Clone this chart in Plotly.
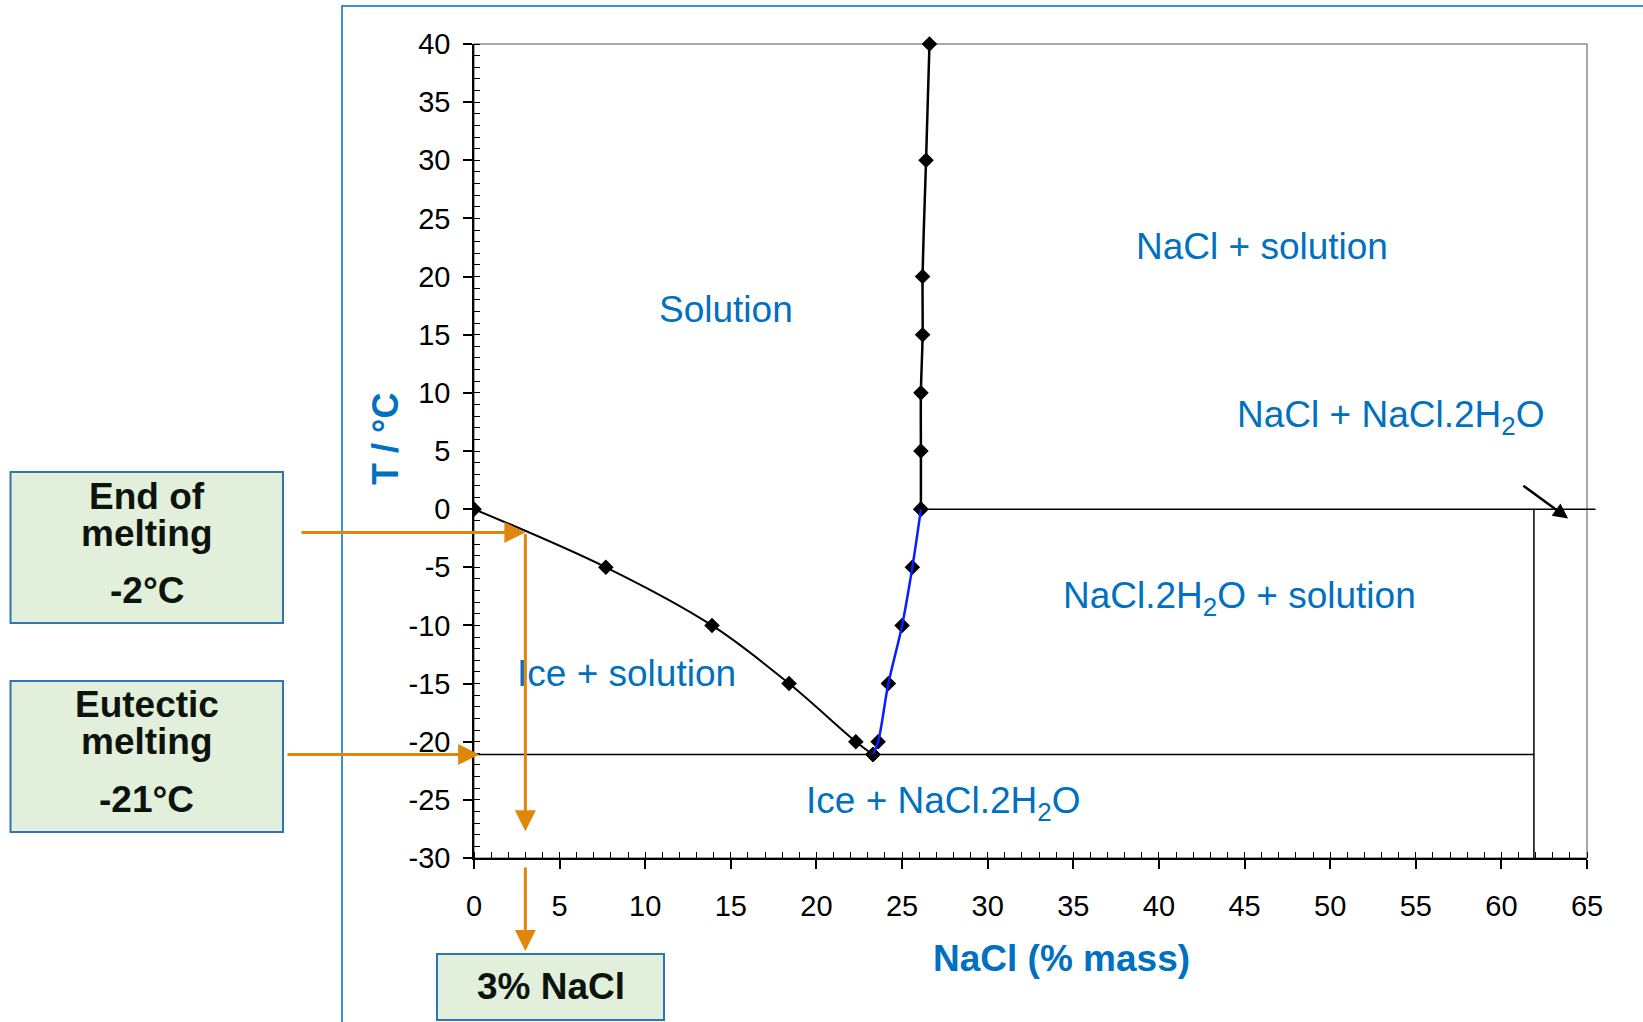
import plotly.graph_objects as go

# ---------------- data ----------------
ice_x = [0, 7.7, 13.9, 18.4, 22.3, 23.3]          # ice liquidus (% NaCl)
ice_T = [0, -5, -10, -15, -20, -21.1]             # °C
hyd_x = [23.3, 23.6, 24.2, 25.0, 25.6, 26.1]      # NaCl.2H2O liquidus
hyd_T = [-21.1, -20, -15, -10, -5, 0]
salt_x = [26.1, 26.1, 26.1, 26.2, 26.2, 26.4, 26.6]  # NaCl solubility
salt_T = [0, 5, 10, 15, 20, 30, 40]

eutectic_T = -21.1
peritectic_T = 0
hydrate_x = 61.9          # NaCl.2H2O composition
peritectic_line_end = 65.5

x_ticks = list(range(0, 70, 5))
y_ticks = list(range(-30, 45, 5))

region_labels = ["Solution", "NaCl + solution", "NaCl + NaCl.2H<sub>2</sub>O",
                 "NaCl.2H<sub>2</sub>O + solution", "Ice + solution",
                 "Ice + NaCl.2H<sub>2</sub>O"]
region_x = [14.7, 46.0, 53.5, 44.7, 8.9, 27.4]
region_y = [17.2, 22.6, 7.9, -7.6, -14.1, -25.3]

sample_x = 3
end_melt_T = -2
arrow_down_T = -27.7

# ---------------- layout geometry (pixels) ----------------
W, H = 1643, 1022
L, R, T, B = 474, 1587, 44, 858
XR = [0, 65]
YR = [-30, 40]


def pxx(px):
    return (px - L) / (R - L)


def pxy(py):
    return (B - py) / (B - T)


def dx(v):
    return (v - XR[0]) / (XR[1] - XR[0])


def dpx(v):
    return L + dx(v) * (R - L)


FONT = "Liberation Sans, Arial, sans-serif"
BLUE_TXT = "#0070C0"
ORANGE = "#E0860B"
BOX_FILL = "#E2EFDA"
BOX_LINE = "#2E75B6"

fig = go.Figure()

mk = dict(symbol="diamond", size=12, color="black")
fig.add_trace(go.Scatter(x=ice_x, y=ice_T, mode="lines+markers", line=dict(color="black", width=2, shape="spline"),
                         marker=mk, showlegend=False))
fig.add_trace(go.Scatter(x=salt_x, y=salt_T, mode="lines+markers", line=dict(color="black", width=2.5, shape="spline"),
                         marker=mk, showlegend=False, cliponaxis=False))
fig.add_trace(go.Scatter(x=hyd_x, y=hyd_T, mode="markers", marker=mk, showlegend=False))
fig.add_trace(go.Scatter(x=hyd_x, y=hyd_T, mode="lines", line=dict(color="#0A1FFF", width=2.5, shape="spline"),
                         showlegend=False))

# horizontal / vertical phase boundaries
fig.add_trace(go.Scatter(x=[0, hydrate_x], y=[eutectic_T, eutectic_T], mode="lines",
                         line=dict(color="black", width=1.5), showlegend=False))
fig.add_trace(go.Scatter(x=[hydrate_x, hydrate_x], y=[peritectic_T, YR[0]], mode="lines",
                         line=dict(color="black", width=1.5), showlegend=False))

shapes = []
# gray plot frame
shapes.append(dict(type="rect", xref="paper", yref="paper", x0=0, x1=1, y0=0, y1=1,
                   line=dict(color="#8c8c8c", width=1.5), layer="below"))
# peritectic line extending past the axis
shapes.append(dict(type="line", xref="paper", yref="y", x0=dx(hyd_x[-1]), x1=dx(peritectic_line_end),
                   y0=peritectic_T, y1=peritectic_T, line=dict(color="black", width=1.5)))
# blue outer frame
shapes.append(dict(type="rect", xref="paper", yref="paper", x0=pxx(342), x1=pxx(1700), y0=pxy(1100), y1=pxy(6),
                   line=dict(color="#0070C0", width=1.5), layer="below"))
# green boxes
for (x0, y0, x1, y1) in [(10.5, 472, 283, 623), (10.5, 681, 283, 832), (437, 954, 664, 1020)]:
    shapes.append(dict(type="rect", xref="paper", yref="paper", x0=pxx(x0), x1=pxx(x1), y0=pxy(y1), y1=pxy(y0),
                       line=dict(color=BOX_LINE, width=2), fillcolor=BOX_FILL, layer="below"))

C = dict(xanchor="center", yanchor="middle")
ann = []
for txt, x, y in zip(region_labels, region_x, region_y):
    ann.append(dict(C, text=txt, x=x, y=y, xref="x", yref="y", showarrow=False,
                    font=dict(family=FONT, size=37, color=BLUE_TXT)))

# box texts
box_lines = [("End of", 496), ("melting", 533), ("-2°C", 590),
             ("Eutectic", 704), ("melting", 741), ("-21°C", 799)]
for txt, py in box_lines:
    ann.append(dict(C, text="<b>%s</b>" % txt, x=pxx(146.7), y=pxy(py), xref="paper", yref="paper",
                    showarrow=False, font=dict(family=FONT, size=37, color="#0d140d")))
ann.append(dict(C, text="<b>3% NaCl</b>", x=pxx(550.5), y=pxy(987), xref="paper", yref="paper",
                showarrow=False, font=dict(family=FONT, size=37, color="#0d140d")))

# axis titles
ann.append(dict(C, text="<b>NaCl (% mass)</b>", x=pxx(1061), y=pxy(958), xref="paper", yref="paper",
                showarrow=False, font=dict(family=FONT, size=37, color=BLUE_TXT)))
ann.append(dict(C, text="<b>T / °C</b>", x=pxx(385), y=pxy(439), xref="paper", yref="paper", textangle=-90,
                showarrow=False, font=dict(family=FONT, size=36, color=BLUE_TXT)))

# orange arrows
arr = dict(showarrow=True, arrowhead=2, arrowsize=1.4, arrowwidth=3, arrowcolor=ORANGE, text="", standoff=0)
ann.append(dict(arr, x=sample_x, y=end_melt_T, xref="x", yref="y", ax=300 - dpx(sample_x), ay=0))
ann.append(dict(arr, x=sample_x, y=arrow_down_T, xref="x", yref="y", axref="x", ayref="y",
                ax=sample_x, ay=end_melt_T))
ann.append(dict(arr, x=0.3, y=eutectic_T, xref="x", yref="y", ax=286 - dpx(0.3), ay=0))
ann.append(dict(arr, x=sample_x, y=pxy(951), xref="x", yref="paper", ax=0, ay=-(951 - 866)))

# black arrow
ann.append(dict(showarrow=True, arrowhead=2, arrowsize=1.2, arrowwidth=2.5, arrowcolor="black", text="",
                x=63.9, y=-0.8, xref="x", yref="y", axref="x", ayref="y", ax=61.2, ay=2.1, standoff=0))

axis_common = dict(showgrid=False, zeroline=False, showline=True, linecolor="black", linewidth=1.5,
                   ticks="outside", ticklen=9, tickwidth=1.5, tickcolor="black",
                   tickfont=dict(family=FONT, size=29, color="black"),
                   minor=dict(ticks="inside", ticklen=6, tickwidth=1, tickcolor="black", dtick=1))

fig.update_xaxes(range=XR, tickmode="array", tickvals=x_ticks, ticktext=[str(v) for v in x_ticks],
                 ticklabelstandoff=12, **axis_common)
fig.update_yaxes(range=YR, tickmode="array", tickvals=y_ticks, ticktext=[str(v) for v in y_ticks],
                 ticklabelstandoff=7, **axis_common)

fig.update_layout(width=W, height=H, margin=dict(l=L, r=W - R, t=T, b=H - B, autoexpand=False),
                  plot_bgcolor="white", paper_bgcolor="white", shapes=shapes, annotations=ann,
                  showlegend=False)

fig.write_html("out.html")
